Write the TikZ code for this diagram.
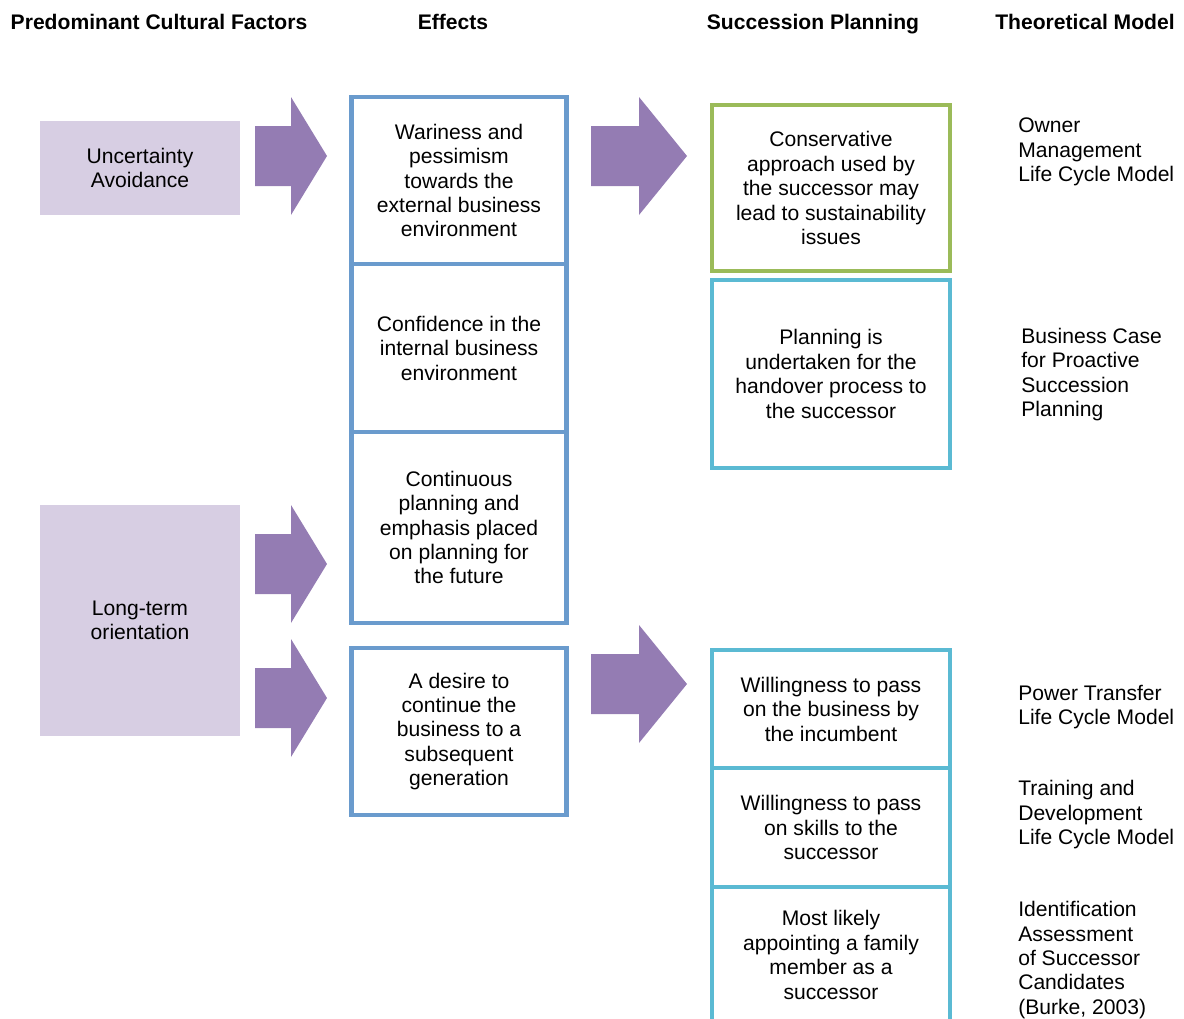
\documentclass[tikz,border=0pt]{standalone}
\usepackage{fontspec}
\setmainfont{Liberation Sans}
\definecolor{factorlilac}{HTML}{D7CEE3}
\definecolor{arrowpurple}{HTML}{947CB3}
\definecolor{effectblue}{HTML}{6A9BCD}
\definecolor{plangreen}{HTML}{9BBB59}
\definecolor{plancyan}{HTML}{5BBAD3}
\usetikzlibrary{positioning}
\tikzset{
    columnhead/.style={
        font=\fontsize{15}{17.4}\selectfont\bfseries,
        text depth=0pt,
        inner sep=0pt
    },
    factorbox/.style={
        fill=factorlilac,
        minimum width=5cm,
        align=center,
        inner sep=0pt
    },
    effectbox/.style={
        draw=effectblue,
        fill=white,
        line width=3pt,
        minimum width=5.375cm,
        align=center,
        inner sep=0pt
    },
    planbox/.style={
        draw=plancyan,
        fill=white,
        line width=3pt,
        minimum width=5.95cm,
        align=center,
        inner sep=0pt
    },
    modeltext/.style={
        anchor=west,
        align=left,
        inner sep=0pt
    },
    blockarrow/.style={
        fill=arrowpurple
    }
}

\begin{document}
\begin{tikzpicture}[x=0.025cm,y=-0.025cm,font=\fontsize{15}{17.4}\selectfont]
        \useasboundingbox (0,0) rectangle (1184,1019);

        \node[columnhead] (factorsHead) at (159,22) {Predominant Cultural Factors};
        \node[columnhead] (effectsHead) at (453,22) {Effects};
        \node[columnhead] (planningHead) at (813,22) {Succession Planning};
        \node[columnhead] (modelHead) at (1085,22) {Theoretical Model};

        \node[factorbox, minimum height=2.35cm] (uncertainty) at (140,168)
            {Uncertainty\\Avoidance};
        \node[factorbox, minimum height=5.775cm] (longTerm) at (140,620.5)
            {Long-term\\orientation};

        \node[effectbox, minimum height=4.175cm] (wariness) at (459,180.5)
            {Wariness and\\pessimism\\towards the\\external business\\environment};
        \node[effectbox, minimum height=4.2cm] (confidence) at (459,348)
            {Confidence in the\\internal business\\environment};
        \node[effectbox, minimum height=4.775cm] (continuous) at (459,527.5)
            {Continuous\\planning and\\emphasis placed\\on planning for\\the future};
        \node[effectbox, minimum height=4.175cm] (desire) at (459,731.5)
            {A desire to\\continue the\\business to a\\subsequent\\generation};

        \node[planbox, draw=plangreen, minimum height=4.15cm] (conservative) at (831,188)
            {Conservative\\approach used by\\the successor may\\lead to sustainability\\issues};
        \node[planbox, minimum height=4.7cm] (handover) at (831,374)
            {Planning is\\undertaken for the\\handover process to\\the successor};
        \node[planbox, minimum height=2.95cm] (passBusiness) at (831,709)
            {Willingness to pass\\on the business by\\the incumbent};
        \node[planbox, minimum height=2.975cm] (passSkills) at (831,827.5)
            {Willingness to pass\\on skills to the\\successor};
        \node[planbox, minimum height=3.4cm] (familyMember) at (831,955)
            {Most likely\\appointing a family\\member as a\\successor};

        \node[modeltext] (ownerModel) at (1018,152)
            {Owner\\Management\\Life Cycle Model};
        \node[modeltext] (businessCase) at (1021,374.5)
            {Business Case\\for Proactive\\Succession\\Planning};
        \node[modeltext] (powerModel) at (1018,707)
            {Power Transfer\\Life Cycle Model};
        \node[modeltext] (trainingModel) at (1018,815)
            {Training and\\Development\\Life Cycle Model};
        \node[modeltext] (identification) at (1018,960)
            {Identification\\Assessment\\of Successor\\Candidates\\(Burke, 2003)};

        % block arrows between the columns
        \coordinate (uncertaintyArrow) at (255,156);
        \coordinate (longTermArrowA) at (255,564);
        \coordinate (longTermArrowB) at (255,698);
        \coordinate (warinessArrow) at (591,156);
        \coordinate (desireArrow) at (591,684);

        \fill[blockarrow] (uncertaintyArrow) ++(0,-30) -- ++(36,0) -- ++(0,-29)
            -- ++(36,59) -- ++(-36,59) -- ++(0,-29) -- ++(-36,0) -- cycle;
        \fill[blockarrow] (longTermArrowA) ++(0,-30) -- ++(36,0) -- ++(0,-29)
            -- ++(36,59) -- ++(-36,59) -- ++(0,-29) -- ++(-36,0) -- cycle;
        \fill[blockarrow] (longTermArrowB) ++(0,-30) -- ++(36,0) -- ++(0,-29)
            -- ++(36,59) -- ++(-36,59) -- ++(0,-29) -- ++(-36,0) -- cycle;
        \fill[blockarrow] (warinessArrow) ++(0,-30) -- ++(48,0) -- ++(0,-29)
            -- ++(48,59) -- ++(-48,59) -- ++(0,-29) -- ++(-48,0) -- cycle;
        \fill[blockarrow] (desireArrow) ++(0,-30) -- ++(48,0) -- ++(0,-29)
            -- ++(48,59) -- ++(-48,59) -- ++(0,-29) -- ++(-48,0) -- cycle;
    \end{tikzpicture}
\end{document}
